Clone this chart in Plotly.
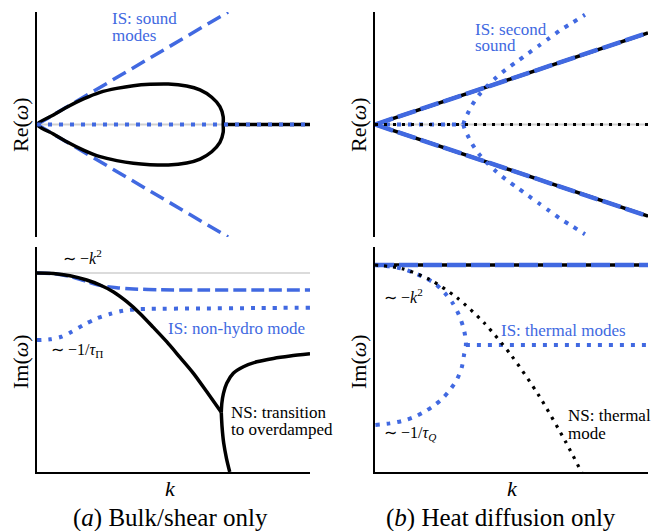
import plotly.graph_objects as go

W, H = 653, 531
BLUE = "#4169E1"
GREY = "#cfcfcf"
FONT = "Liberation Serif"

# ---------------- data (k in arbitrary units 0..10) ----------------
# (a) top: Re(omega)
k_axis = [0, 10]
zero_line = [0, 0]
k_sound = [0, 7.0]
re_sound_up = [0, 1.0]
re_sound_dn = [0, -1.0]
k_loop = [0, 0.60, 1.09, 1.70, 2.31, 2.92, 3.53, 4.14, 4.81, 5.48, 5.97, 6.40, 6.70, 6.82, 6.82,
          6.82, 6.70, 6.40, 5.97, 5.48, 4.81, 4.14, 3.53, 2.92, 2.31, 1.70, 1.09, 0.60, 0]
re_loop = [0, 0.084, 0.153, 0.227, 0.286, 0.321, 0.345, 0.357, 0.360, 0.342, 0.307, 0.242, 0.159, 0.069, 0,
           -0.069, -0.159, -0.242, -0.307, -0.342, -0.360, -0.357, -0.345, -0.321, -0.286, -0.227, -0.153, -0.084, 0]
k_tail = [6.82, 10]
re_tail = [0, 0]

# (a) bottom: Im(omega)
k_hydro = [0, 0.60, 1.21, 1.82, 2.31, 2.79, 3.29, 3.77, 4.26, 4.75, 5.24, 5.73, 6.22, 6.75]
im_hydro = [0, -0.02, -0.135, -0.35, -0.60, -0.94, -1.44, -2.03, -2.73, -3.45, -4.24, -5.04, -5.97, -7.0]
k_od_dn = [6.75, 6.78, 6.84, 6.94, 7.06]
im_od_dn = [-7.0, -7.75, -8.56, -9.31, -10.0]
k_od_up = [6.75, 6.77, 6.83, 6.95, 7.19, 7.56, 8.05, 8.66, 9.27, 10.0]
im_od_up = [-7.0, -6.55, -6.05, -5.54, -5.04, -4.71, -4.46, -4.29, -4.17, -4.06]
k_is_dash = [0, 0.6, 1.2, 1.82, 2.31, 2.92, 3.53, 4.5, 6, 8, 10]
im_is_dash = [0, -0.03, -0.17, -0.42, -0.62, -0.74, -0.80, -0.84, -0.85, -0.85, -0.85]
k_is_dot = [0, 0.48, 0.9, 1.27, 1.70, 2.19, 2.67, 3.16, 3.65, 4.14, 6, 8, 10]
im_is_dot = [-3.37, -3.33, -3.2, -2.95, -2.61, -2.28, -2.06, -1.89, -1.82, -1.80, -1.78, -1.76, -1.74]

# (b) top: Re(omega)
k_ss = [0, 10]
re_ss_up = [0, 0.815]
re_ss_dn = [0, -0.815]
k_2nd_flat = [0, 3.23]
re_2nd_flat = [0, 0]
k_2nd = [3.23, 3.30, 3.40, 3.55, 3.80, 4.10, 4.45, 4.80, 5.20, 5.60, 6.00, 6.40, 6.80, 7.20, 7.69]
re_2nd_up = [0, 0.05, 0.10, 0.17, 0.26, 0.34, 0.42, 0.49, 0.56, 0.63, 0.70, 0.77, 0.84, 0.90, 0.975]
re_2nd_dn = [0, -0.05, -0.10, -0.17, -0.26, -0.34, -0.42, -0.49, -0.56, -0.63, -0.70, -0.77, -0.84, -0.90, -0.975]

# (b) bottom: Im(omega)
k_flat = [0, 10]
im_flat = [0, 0]
k_ns_th = [0, 1, 2, 3, 4, 5, 6, 7, 7.6]
im_ns_th = [0, -0.18, -0.70, -1.58, -2.80, -4.38, -6.30, -8.58, -10.1]
k_th = [0, 0.5, 0.95, 1.4, 1.8, 2.2, 2.55, 2.85, 3.07, 3.22, 3.30, 3.33,
        3.26, 3.18, 3.01, 2.77, 2.48, 2.14, 1.77, 1.40, 0.98, 0.55, 0]
im_th = [0, -0.06, -0.16, -0.36, -0.6, -0.9, -1.35, -1.85, -2.4, -2.95, -3.4, -3.86,
         -4.35, -4.94, -5.51, -5.99, -6.44, -6.81, -7.12, -7.36, -7.54, -7.65, -7.73]
k_th_flat = [3.33, 10]
im_th_flat = [-3.86, -3.86]

# ---------------- figure ----------------
fig = go.Figure()


def line(x, y, ax, color, width, dash="solid", spline=True):
    fig.add_trace(go.Scatter(
        x=x, y=y, xaxis="x" + ax, yaxis="y" + ax, mode="lines",
        line=dict(color=color, width=width, dash=dash,
                  shape="spline" if spline else "linear", smoothing=0.8),
        hoverinfo="skip", showlegend=False))


DOT_B = "4px,7px"
DOT_K = "3px,6px"

# panel 1 (top-left)
line(k_axis, zero_line, "1", GREY, 2, spline=False)
line(k_sound, re_sound_up, "1", BLUE, 3.5, "15px,7px", spline=False)
line(k_sound, re_sound_dn, "1", BLUE, 3.5, "15px,7px", spline=False)
line(k_loop, re_loop, "1", "black", 3.5)
line(k_tail, re_tail, "1", "black", 3.5, spline=False)
line(k_axis, zero_line, "1", BLUE, 4, DOT_B, spline=False)

# panel 2 (top-right)
line(k_axis, zero_line, "2", GREY, 2, spline=False)
line(k_ss, re_ss_up, "2", "black", 3.5, spline=False)
line(k_ss, re_ss_dn, "2", "black", 3.5, spline=False)
line(k_ss, re_ss_up, "2", BLUE, 4.5, "19px,5px", spline=False)
line(k_ss, re_ss_dn, "2", BLUE, 4.5, "19px,5px", spline=False)
line(k_2nd_flat, re_2nd_flat, "2", BLUE, 4, DOT_B, spline=False)
line(k_2nd, re_2nd_up, "2", BLUE, 4, DOT_B)
line(k_2nd, re_2nd_dn, "2", BLUE, 4, DOT_B)
line(k_axis, zero_line, "2", "black", 3.2, DOT_K, spline=False)

# panel 3 (bottom-left)
line(k_axis, zero_line, "3", GREY, 1.5, spline=False)
line(k_is_dash, im_is_dash, "3", BLUE, 3.5, "13px,5px")
line(k_is_dot, im_is_dot, "3", BLUE, 4, DOT_B)
line(k_hydro, im_hydro, "3", "black", 3.5)
line(k_od_dn, im_od_dn, "3", "black", 3.5)
line(k_od_up, im_od_up, "3", "black", 3.5)

# panel 4 (bottom-right)
line(k_flat, im_flat, "4", "black", 3.5, spline=False)
line(k_flat, im_flat, "4", BLUE, 4.5, "19px,5px", spline=False)
line(k_th, im_th, "4", BLUE, 4, DOT_B)
line(k_th_flat, im_th_flat, "4", BLUE, 4, DOT_B, spline=False)
line(k_ns_th, im_ns_th, "4", "black", 3.2, DOT_K)


def px_x(p):
    return p / W


def px_y(p):
    return 1 - p / H


left = [px_x(37), px_x(310)]
right = [px_x(375), px_x(648)]
top = [px_y(237), px_y(12)]
bot = [px_y(472), px_y(247)]

common_x = dict(range=[0, 10], showgrid=False, zeroline=False, showticklabels=False, ticks="",
                fixedrange=True)
common_y = dict(showgrid=False, zeroline=False, showticklabels=False, ticks="", fixedrange=True,
                showline=True, linecolor="black", linewidth=2)

layout = dict(
    width=W, height=H, margin=dict(l=0, r=0, t=0, b=0),
    paper_bgcolor="white", plot_bgcolor="white",
    font=dict(family=FONT),
    xaxis=dict(domain=left, anchor="y", showline=False, **common_x),
    yaxis=dict(domain=top, anchor="x", range=[-1, 1], **common_y),
    xaxis2=dict(domain=right, anchor="y2", showline=False, **common_x),
    yaxis2=dict(domain=top, anchor="x2", range=[-1, 1], **common_y),
    xaxis3=dict(domain=left, anchor="y3", showline=True, linecolor="black", linewidth=2, **common_x),
    yaxis3=dict(domain=bot, anchor="x3", range=[-10, 1.31], **common_y),
    xaxis4=dict(domain=right, anchor="y4", showline=True, linecolor="black", linewidth=2, **common_x),
    yaxis4=dict(domain=bot, anchor="x4", range=[-10, 0.87], **common_y),
)
fig.update_layout(**layout)


def note(text, x, y, size=17, color="black", xanchor="left", angle=0):
    fig.add_annotation(text=text, x=px_x(x), y=px_y(y), xref="paper", yref="paper",
                       xanchor=xanchor, yanchor="middle", showarrow=False, textangle=angle,
                       font=dict(family=FONT, size=size, color=color))


# in-panel annotations
note("IS: sound", 110, 18, color=BLUE)
note("modes", 110, 35, color=BLUE)
note("IS: second", 473, 29, color=BLUE)
note("sound", 473, 45, color=BLUE)
note("∼ −<i>k</i><sup>2</sup>", 61, 257, size=16)
note("∼ −1/<i>τ</i><sub>Π</sub>", 49, 350, size=16)
note("IS: non-hydro mode", 166, 328, color=BLUE)
note("NS: transition", 229, 412)
note("to overdamped", 229, 429)
note("∼ −<i>k</i><sup>2</sup>", 382, 296, size=16)
note("IS: thermal modes", 499, 330, color=BLUE)
note("NS: thermal", 566, 415)
note("mode", 566, 433)
note("∼ −1/<i>τ</i><sub><i>Q</i></sub>", 382, 433, size=16)

# axis labels and panel titles
note("Re(<i>ω</i>)", 20, 125, size=22, xanchor="center", angle=-90)
note("Re(<i>ω</i>)", 358, 125, size=22, xanchor="center", angle=-90)
note("Im(<i>ω</i>)", 20, 362, size=22, xanchor="center", angle=-90)
note("Im(<i>ω</i>)", 358, 362, size=22, xanchor="center", angle=-90)
note("<i>k</i>", 171, 488, size=22, xanchor="center")
note("<i>k</i>", 512, 488, size=22, xanchor="center")
note("(<i>a</i>) Bulk/shear only", 170, 518, size=25, xanchor="center")
note("(<i>b</i>) Heat diffusion only", 501, 518, size=25, xanchor="center")

fig.write_html("out.html")
